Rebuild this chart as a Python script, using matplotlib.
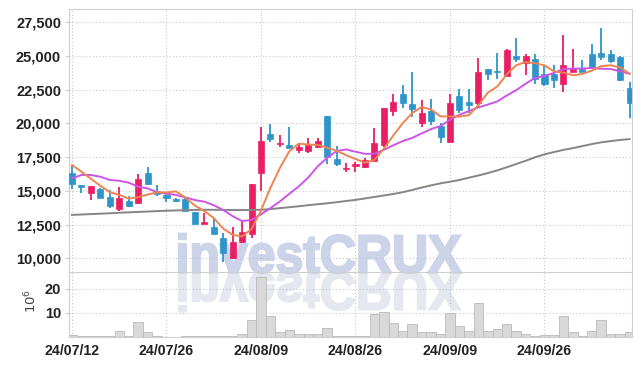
import matplotlib
matplotlib.use("Agg")
import matplotlib.pyplot as plt
import pandas as pd
from matplotlib.textpath import TextPath
from matplotlib.patches import PathPatch
from matplotlib.font_manager import FontProperties
from matplotlib.transforms import Affine2D, IdentityTransform

# daily candles (KRW), 60 trading days
opens = [16350, 15440, 14870, 15120, 14530, 13660, 14250, 14080, 16300, 14990,
         14700, 14400, 14400, 13420, 12550, 12310, 11540, 10060, 11220, 11810,
         16350, 19190, 18470, 18400, 18030, 17970, 18230, 20540, 17360, 16640,
         16840, 16750, 17230, 18400, 20930, 22220, 21410, 20000, 20910, 19800,
         18640, 22020, 21600, 21480, 24010, 23890, 23500, 25030, 24510, 24810,
         23700, 23700, 22890, 23820, 24010, 25130, 25230, 25130, 24930, 22660]
highs = [16850, 15450, 15370, 15190, 15070, 15310, 14650, 16250, 16750, 15440,
         14750, 14500, 14570, 13420, 13340, 12970, 11870, 12350, 12850, 15490,
         19750, 19950, 19130, 19750, 18520, 18890, 18890, 20540, 18320, 17040,
         17160, 17410, 19630, 21110, 22150, 22830, 23820, 21720, 21800, 20000,
         22150, 22540, 22590, 24880, 24070, 25250, 25550, 26310, 25180, 25180,
         24310, 24310, 26550, 25550, 24680, 25920, 27070, 25420, 24980, 23080]
lows = [15140, 14820, 14330, 14450, 13760, 13540, 13830, 14030, 15440, 14650,
        14200, 14200, 13510, 12530, 12550, 11840, 9760, 10060, 11120, 11500,
        15000, 18640, 18270, 18150, 17830, 17780, 18150, 16990, 16840, 16420,
        16420, 16670, 17230, 18270, 20540, 21110, 20490, 19750, 19880, 18520,
        18640, 20810, 20740, 21230, 23200, 23280, 23500, 24570, 23570, 22960,
        22790, 22660, 22340, 23820, 23820, 24070, 24680, 24510, 23150, 20440]
closes = [15490, 15270, 15360, 14500, 13910, 14500, 13880, 15860, 15490, 14750,
          14450, 14280, 13540, 12550, 12720, 11840, 10390, 11220, 11940, 15490,
          18690, 18840, 18540, 18150, 18270, 18400, 18690, 17490, 16990, 16690,
          16970, 17290, 18570, 21110, 21600, 21530, 21060, 20810, 20190, 19010,
          21550, 20990, 21350, 23820, 23700, 23820, 25470, 24780, 24980, 23330,
          22960, 23250, 24310, 24010, 23820, 24190, 24930, 24630, 23200, 21530]

# volume, millions of shares
volume = [1.0, 0.6, 0.6, 0.3, 0.6, 2.4, 0.3, 6.3, 2.0, 0.3,
          0.2, 0.2, 0.5, 0.5, 0.3, 0.3, 0.4, 0.6, 1.4, 7.2,
          25.0, 8.6, 2.0, 3.1, 1.1, 1.4, 1.1, 3.6, 0.6, 0.3,
          0.6, 0.6, 9.7, 10.4, 5.7, 2.7, 5.3, 1.9, 1.9, 1.2,
          10.0, 4.6, 2.7, 14.0, 2.7, 3.2, 5.4, 2.4, 1.2, 0.5,
          1.0, 1.0, 8.7, 2.0, 0.6, 2.4, 7.2, 1.2, 1.2, 2.0]

# moving-average values for the first days (their windows start before the chart)
ma5_head = [16920, 16420, 15900, 15380]
ma10_head = [15930, 16180, 16180, 16050, 15810, 15750, 15610, 15310, 15190]
# long moving average
ma_long = [13220, 13250, 13280, 13310, 13340, 13380, 13410, 13440, 13470, 13500,
           13530, 13550, 13570, 13590, 13600, 13600, 13590, 13580, 13580, 13590,
           13600, 13650, 13720, 13790, 13860, 13940, 14010, 14080, 14160, 14250,
           14330, 14440, 14550, 14660, 14770, 14900, 15070, 15250, 15410, 15560,
           15680, 15810, 15980, 16140, 16320, 16520, 16750, 16990, 17230, 17490,
           17710, 17880, 18040, 18170, 18320, 18470, 18600, 18690, 18780, 18840]

tick_idx = [0, 10, 20, 30, 40, 50]
tick_labels = ["24/07/12", "24/07/26", "24/08/09", "24/08/26", "24/09/09", "24/09/26"]
price_ticks = [10000, 12500, 15000, 17500, 20000, 22500, 25000, 27500]
vol_ticks = [10, 20]

UP, DOWN = "#e91e63", "#2e95c8"
GRID = "#c3c6d6"
FRAME = "#cfcfcf"
label_font = ["Liberation Sans Narrow", "Liberation Sans"]

c = pd.Series(closes, dtype=float)
ma5 = c.rolling(5).mean()
ma5.iloc[:4] = ma5_head
ma10 = c.rolling(10).mean()
ma10.iloc[:9] = ma10_head

fig = plt.figure(figsize=(6.42, 3.66), dpi=100)
ax = fig.add_axes([0.107, 0.2568, 0.878, 0.7178])
axv = fig.add_axes([0.107, 0.0792, 0.878, 0.1776], sharex=ax)
for a in (ax, axv):
    a.set_facecolor("none")
    for s in a.spines.values():
        s.set_color(FRAME)
    a.grid(True, color=GRID, linestyle=(0, (1, 2)), linewidth=0.8)
    a.set_axisbelow(True)

# watermark with reflection
fp = FontProperties(family="Liberation Sans", weight="bold")
tp = TextPath((0, 0), "investCRUX", size=100, prop=fp)
bb = tp.get_extents()
cap = TextPath((0, 0), "C", size=100, prop=fp).get_extents().height
H = 366
sx = (461 - 179) / bb.width
sy = (272 - 234) / cap
base = H - 272.5
t1 = Affine2D().translate(-bb.x0, 0).scale(sx, sy).translate(179, base)
t2 = Affine2D().translate(-bb.x0, 0).scale(sx, -sy).translate(179, base)
fig.add_artist(PathPatch(t1.transform_path(tp), facecolor="#cdd3e8", edgecolor="#cdd3e8",
                         linewidth=1.6, transform=IdentityTransform(), zorder=-5))
fig.add_artist(PathPatch(t2.transform_path(tp), facecolor="#e6e8ef", edgecolor="#e6e8ef",
                         linewidth=1.6, transform=IdentityTransform(), zorder=-6))

x = list(range(len(closes)))
cols = [UP if cl >= op else DOWN for op, cl in zip(opens, closes)]
bottoms = [min(op, cl) for op, cl in zip(opens, closes)]
heights = [max(abs(cl - op), 40) for op, cl in zip(opens, closes)]
ax.vlines(x, lows, highs, colors=cols, linewidth=1.3, zorder=2)
ax.bar(x, heights, bottom=bottoms, width=0.64, color=cols, edgecolor=cols,
       linewidth=0.5, zorder=3)

ax.plot(x, ma_long, color="#858585", linewidth=1.4, zorder=4)
ax.plot(x, ma10, color="#cc55e6", linewidth=1.4, zorder=4)
ax.plot(x, ma5, color="#ee8450", linewidth=1.4, zorder=4)

ax.set_xlim(-0.35, 59.3)
ax.set_ylim(8985, 28465)
ax.set_yticks(price_ticks)
ax.set_yticklabels([f"{v:,}" for v in price_ticks])
ax.tick_params(axis="x", length=0, labelbottom=False)
ax.tick_params(axis="y", length=3, color=FRAME, pad=2.5)

axv.bar(x, volume, width=1.0, color="#d9d9d9", edgecolor="#b9b9b9", linewidth=0.6, zorder=2)
axv.set_ylim(0, 27)
axv.set_yticks(vol_ticks)
axv.set_xticks(tick_idx)
axv.set_xticklabels(tick_labels)
axv.tick_params(axis="x", length=0, pad=5)
axv.tick_params(axis="y", length=3, color=FRAME, pad=2.5)
axv.spines["top"].set_visible(False)

for lab in ax.get_yticklabels() + axv.get_yticklabels():
    lab.set_fontfamily(label_font)
    lab.set_fontweight("bold")
    lab.set_fontsize(10.5)
    lab.set_color("#222222")
for lab in axv.get_xticklabels():
    lab.set_fontfamily(label_font)
    lab.set_fontweight("bold")
    lab.set_fontsize(10.2)
    lab.set_color("#222222")

fig.text(31 / 642, 1 - 301 / 366, r"$10^6$", rotation=90, fontsize=9.5,
         color="#444444", ha="center", va="center")

fig.savefig("out.png", dpi=100)
